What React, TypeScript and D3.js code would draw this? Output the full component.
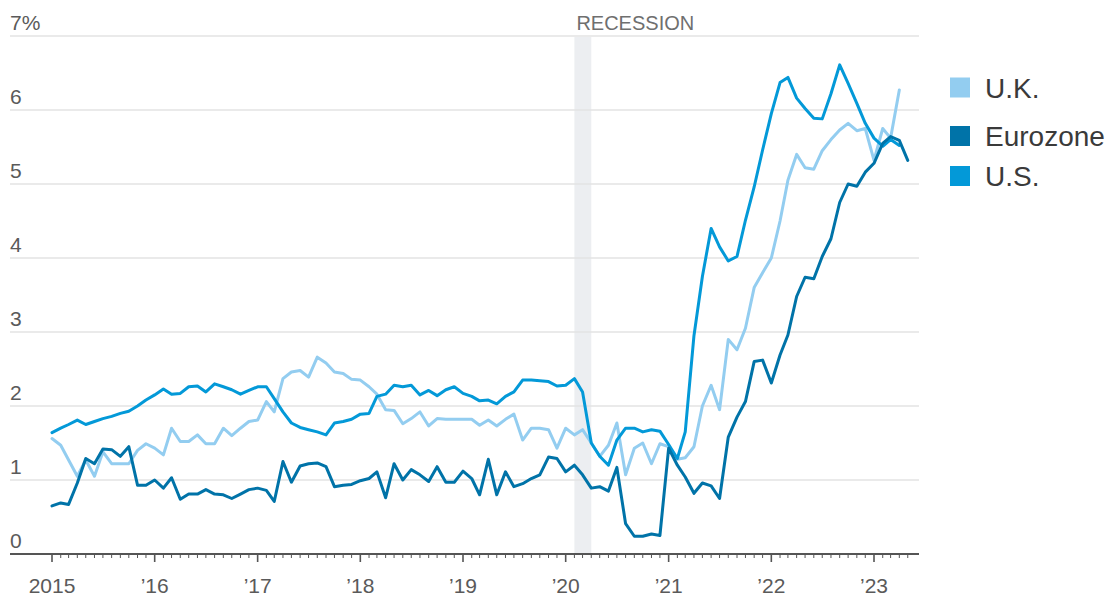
import React from "react";
import * as d3 from "d3";

// ---- data (monthly, starting January 2015) ----
const startDate = new Date(2015, 0, 1);

const ukValues = [
  1.56, 1.47, 1.27, 1.05, 1.27, 1.05, 1.38, 1.22, 1.22, 1.22, 1.4, 1.49,
  1.43, 1.34, 1.7, 1.52, 1.52, 1.61, 1.49, 1.49, 1.7, 1.6, 1.7, 1.79,
  1.81, 2.06, 1.92, 2.37, 2.46, 2.48, 2.39, 2.66, 2.58, 2.46, 2.44, 2.36,
  2.35, 2.26, 2.16, 1.95, 1.94, 1.76, 1.83, 1.92, 1.73, 1.83, 1.82, 1.82,
  1.82, 1.82, 1.74, 1.81, 1.73, 1.82, 1.89, 1.54, 1.7, 1.7, 1.68, 1.43,
  1.7, 1.61, 1.68, 1.5, 1.32, 1.47, 1.77, 1.07, 1.43, 1.5, 1.22, 1.49,
  1.45, 1.28, 1.3, 1.45, 2.0, 2.28, 1.95, 2.9, 2.76, 3.05, 3.6, 3.8,
  4.0, 4.5, 5.05, 5.4, 5.22, 5.2, 5.45, 5.6, 5.73, 5.82, 5.72, 5.75,
  5.32, 5.75, 5.62, 6.27,
];

const eurozoneValues = [
  0.65, 0.69, 0.67, 0.96, 1.29, 1.22, 1.42, 1.41, 1.32, 1.45, 0.93, 0.93,
  1.0, 0.89, 1.03, 0.74, 0.81, 0.81, 0.87, 0.81, 0.8, 0.75, 0.81, 0.87,
  0.89, 0.86, 0.71, 1.25, 0.97, 1.19, 1.22, 1.23, 1.18, 0.91, 0.93, 0.94,
  0.99, 1.02, 1.11, 0.76, 1.22, 1.0, 1.14, 1.07, 0.98, 1.18, 0.97, 0.97,
  1.12, 1.02, 0.8, 1.28, 0.8, 1.11, 0.91, 0.95, 1.02, 1.07, 1.31, 1.29,
  1.11, 1.2, 1.07, 0.89, 0.91, 0.85, 1.17, 0.41, 0.24, 0.24, 0.27, 0.25,
  1.43, 1.2, 1.04, 0.82, 0.96, 0.92, 0.75, 1.58, 1.85, 2.06, 2.6, 2.62,
  2.31, 2.69, 2.96, 3.48, 3.74, 3.72, 4.02, 4.26, 4.75, 5.0, 4.97, 5.16,
  5.28, 5.55, 5.64, 5.59, 5.32,
];

const usValues = [
  1.64, 1.7, 1.75, 1.81, 1.75, 1.79, 1.83, 1.86, 1.9, 1.93, 2.0, 2.08,
  2.15, 2.23, 2.16, 2.17, 2.26, 2.27, 2.19, 2.3, 2.26, 2.22, 2.16, 2.21,
  2.26, 2.26, 2.1, 1.92, 1.77, 1.71, 1.68, 1.65, 1.61, 1.77, 1.79, 1.82,
  1.89, 1.9, 2.13, 2.16, 2.28, 2.26, 2.28, 2.15, 2.21, 2.14, 2.22, 2.26,
  2.17, 2.13, 2.07, 2.08, 2.03, 2.13, 2.19, 2.35, 2.35, 2.34, 2.33, 2.27,
  2.28, 2.37, 2.19, 1.5, 1.32, 1.2, 1.54, 1.7, 1.7, 1.65, 1.68, 1.66,
  1.48, 1.29, 1.65, 2.95, 3.75, 4.4, 4.15, 3.96, 4.02, 4.51, 4.96, 5.46,
  5.95, 6.37, 6.44, 6.16, 6.02, 5.89, 5.88, 6.22, 6.61, 6.36, 6.09, 5.82,
  5.62, 5.51, 5.6, 5.52,
];

const seriesNames = ["U.K.", "Eurozone", "U.S."];
const seriesColors = ["#93cdf0", "#0073a8", "#0399d8"];

const yTickValues = [0, 1, 2, 3, 4, 5, 6, 7];
const yTickLabels = ["0", "1", "2", "3", "4", "5", "6", "7%"];
const xTickYears = [2015, 2016, 2017, 2018, 2019, 2020, 2021, 2022, 2023];
const xTickLabels = ["2015", "\u201916", "\u201917", "\u201918", "\u201919", "\u201920", "\u201921", "\u201922", "\u201923"];

const recessionStart = new Date(2020, 1, 1);
const recessionEnd = new Date(2020, 3, 1);
const recessionLabel = "RECESSION";

// ---- layout ----
const W = 1117;
const H = 598;
const FONT = "'Liberation Sans', Arial, sans-serif";

export default function App() {
  const x = d3
    .scaleTime()
    .domain([new Date(2015, 0, 1), new Date(2023, 0, 1)])
    .range([52, 874]);
  const y = d3.scaleLinear().domain([0, 7]).range([554, 36]);

  const gridLeft = 10;
  const gridRight = 919;

  const toPoints = (vals: number[]) =>
    vals.map((v, i) => ({ date: d3.timeMonth.offset(startDate, i), v }));

  const line = d3
    .line<{ date: Date; v: number }>()
    .x((d) => x(d.date))
    .y((d) => y(d.v))
    .curve(d3.curveLinear);

  const series = [
    { name: seriesNames[0], color: seriesColors[0], pts: toPoints(ukValues) },
    { name: seriesNames[2], color: seriesColors[2], pts: toPoints(usValues) },
    { name: seriesNames[1], color: seriesColors[1], pts: toPoints(eurozoneValues) },
  ];

  const monthTicks = d3.timeMonth.range(new Date(2015, 0, 1), new Date(2023, 5, 1));

  const legendY = [87.5, 136, 176];

  return (
    <svg
      width={W}
      height={H}
      style={{ position: "absolute", left: 0, top: 0, background: "#fff" }}
      fontFamily={FONT}
    >
      {/* recession band */}
      <rect
        x={x(recessionStart)}
        y={y(7) + 1}
        width={x(recessionEnd) - x(recessionStart)}
        height={y(0) - y(7) - 1}
        fill="#eceef1"
      />
      <text x={x(recessionStart) + 2} y={30} fontSize={20} fill="#6f6f6f">
        {recessionLabel}
      </text>

      {/* gridlines */}
      {yTickValues
        .filter((v) => v > 0)
        .map((v) => (
          <line
            key={"g" + v}
            x1={gridLeft}
            x2={gridRight}
            y1={y(v)}
            y2={y(v)}
            stroke="#e3e3e3"
            strokeWidth={1.5}
          />
        ))}

      {/* y labels */}
      {yTickValues.map((v, i) => (
        <text key={"yl" + v} x={gridLeft} y={y(v) - 6} fontSize={21} fill="#5a5a5a">
          {yTickLabels[i]}
        </text>
      ))}

      {/* lines */}
      {series.map((s) => (
        <path
          key={s.name}
          d={line(s.pts) || ""}
          fill="none"
          stroke={s.color}
          strokeWidth={3}
          strokeLinejoin="round"
          strokeLinecap="round"
        />
      ))}

      {/* x axis */}
      <line x1={gridLeft} x2={gridRight} y1={y(0)} y2={y(0)} stroke="#555" strokeWidth={2} />
      {monthTicks.map((d, i) => {
        const major = d.getMonth() === 0;
        return (
          <line
            key={"t" + i}
            x1={x(d)}
            x2={x(d)}
            y1={y(0)}
            y2={y(0) + (major ? 8 : 4)}
            stroke="#555"
            strokeWidth={major ? 1.6 : 1}
          />
        );
      })}
      {xTickYears.map((yr, i) => (
        <text
          key={"xl" + yr}
          x={x(new Date(yr, 0, 1))}
          y={593}
          fontSize={21}
          textAnchor="middle"
          fill="#5a5a5a"
        >
          {xTickLabels[i]}
        </text>
      ))}

      {/* legend */}
      {seriesNames.map((n, i) => (
        <g key={"lg" + n}>
          <rect x={950} y={legendY[i] - 10} width={20} height={20} fill={seriesColors[i]} />
          <text x={985} y={legendY[i] + 10} fontSize={28} fill="#3a3a3a">
            {n}
          </text>
        </g>
      ))}
    </svg>
  );
}
